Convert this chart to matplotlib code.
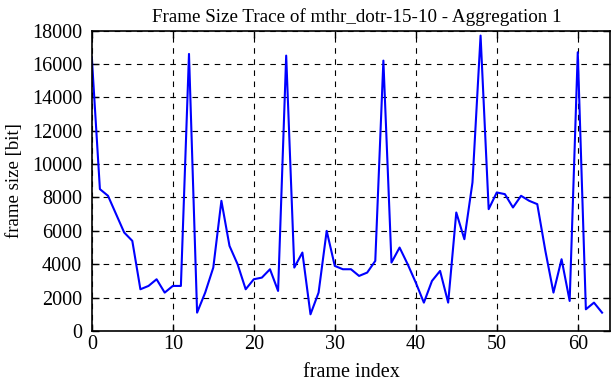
import matplotlib
matplotlib.use("Agg")
import matplotlib.pyplot as plt

# frame sizes in bit
frame_index = list(range(64))
frame_size = [
    16400, 8500, 8100, 7000, 5900, 5400, 2500, 2700, 3100, 2300,
    2700, 2700, 16600, 1100, 2300, 3800, 7800, 5100, 4000, 2500,
    3100, 3200, 3700, 2400, 16500, 3800, 4700, 1000, 2300, 6000,
    3900, 3700, 3700, 3300, 3500, 4200, 16200, 4100, 5000, 4000,
    2900, 1700, 3000, 3600, 1700, 7100, 5500, 8900, 17700, 7300,
    8300, 8200, 7400, 8100, 7800, 7600, 4800, 2300, 4300, 1800,
    16700, 1300, 1700, 1100,
]

plt.rcParams["font.family"] = "Liberation Serif"
plt.rcParams["font.size"] = 14.5

fig = plt.figure(figsize=(6.12, 3.82), dpi=100)
ax = fig.add_axes([0.150, 0.1335, 0.847, 0.7865])

ax.plot(frame_index, frame_size, color="#0000ff", linewidth=1.5)

ax.set_xlim(0, 64)
ax.set_ylim(0, 18000)
ax.set_xticks(range(0, 61, 10))
ax.set_yticks(range(0, 18001, 2000))
ax.grid(True, color="black", linestyle=(0, (5, 5)), linewidth=0.8)
ax.tick_params(direction="in", top=True, right=True, length=5, width=1)
ax.tick_params(axis="y", pad=7)
ax.tick_params(axis="x", pad=3)
for s in ax.spines.values():
    s.set_linewidth(1.2)

ax.set_xlabel("frame index")
ax.xaxis.set_label_coords(0.5, -0.108)
ax.set_ylabel("frame size [bit]", fontsize=13.5)
ax.yaxis.set_label_coords(-0.133, 0.5)
ax.set_title("Frame Size Trace of mthr_dotr-15-10 - Aggregation 1",
             fontsize=13.7, pad=6, x=0.512)

fig.savefig("out.png", dpi=100)
